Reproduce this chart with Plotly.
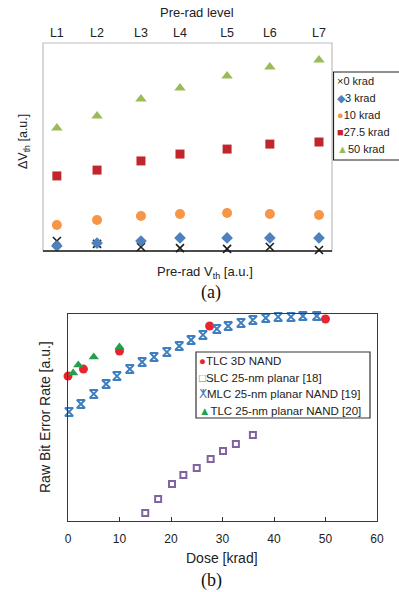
import plotly.graph_objects as go

W, H = 399, 592

# ---------------- data: panel (a) ----------------
levels = ["L1", "L2", "L3", "L4", "L5", "L6", "L7"]
pre_rad_vth = [0.48, 1.87, 3.39, 4.74, 6.37, 7.85, 9.55]
dv_0krad = [4.8, 3.4, 1.9, 1.4, 1.0, 1.9, 0.5]
dv_3krad = [2.4, 3.8, 4.8, 6.3, 6.3, 6.3, 6.3]
dv_10krad = [12.5, 14.9, 16.8, 17.8, 18.3, 17.8, 17.3]
dv_27krad = [36.1, 38.9, 43.3, 46.6, 49.0, 51.4, 52.4]
dv_50krad = [59.1, 64.9, 73.1, 78.4, 84.1, 88.5, 91.8]

# ---------------- data: panel (b) ----------------
dose_tlc3d = [0, 3, 10, 27.5, 50]
rber_tlc3d = [70.0, 73.4, 82.1, 94.2, 97.6]
dose_slc = [15, 17.5, 20.2, 22.4, 25, 27.7, 30.1, 32.6, 35.9]
rber_slc = [3.9, 10.6, 17.9, 22.2, 25.6, 30.0, 33.8, 37.2, 41.5]
dose_mlc = [0.2, 2.5, 5.0, 7.4, 9.5, 12.0, 14.4, 16.7, 19.2, 21.6, 23.9,
            26.2, 28.9, 31.1, 33.6, 35.9, 38.4, 40.8, 43.3, 45.6, 48.3]
rber_mlc = [52.7, 56.5, 61.4, 66.2, 70.0, 73.4, 76.8, 79.2, 81.6, 84.5, 87.4,
            89.9, 92.8, 94.2, 95.7, 97.1, 98.1, 98.6, 98.6, 99.0, 99.0]
dose_tlc25 = [1, 2, 5, 10]
rber_tlc25 = [71.5, 75.4, 79.2, 84.1]
dose_ticks = [0, 10, 20, 30, 40, 50, 60]

FONT = "Liberation Sans, Arial, sans-serif"
SERIF = "Liberation Serif, Times New Roman, serif"
TXT = "#222222"


def fx(p):
    return p / W


def fy(p):
    return 1 - p / H


fig = go.Figure()

# panel (a) traces
a_series = [
    ("0 krad", dv_0krad, dict(symbol="x-thin", size=8, color="#1a1a1a",
                              line=dict(width=1.6, color="#1a1a1a"))),
    ("3 krad", dv_3krad, dict(symbol="diamond", size=9, color="#4f81bd")),
    ("10 krad", dv_10krad, dict(symbol="circle", size=10, color="#f79646")),
    ("27.5 krad", dv_27krad, dict(symbol="square", size=9, color="#c0272d")),
    ("50 krad", dv_50krad, dict(symbol="triangle-up", size=10, color="#9bbb59")),
]
for name, ys, mk in a_series:
    fig.add_trace(go.Scatter(x=pre_rad_vth, y=ys, mode="markers", name=name,
                             marker=mk, xaxis="x", yaxis="y",
                             cliponaxis=False, showlegend=False))

# panel (b) traces
b_series = [
    ("TLC 3D NAND", dose_tlc3d, rber_tlc3d,
     dict(symbol="circle", size=9, color="#e8252f")),
    ("SLC 25-nm planar [18]", dose_slc, rber_slc,
     dict(symbol="square-open", size=6, color="#8064a2",
          line=dict(width=2, color="#8064a2"))),
    ("MLC 25-nm planar NAND [19]", dose_mlc, rber_mlc,
     dict(symbol="hourglass-open", size=8, color="#3f7fc0",
          line=dict(width=2, color="#3f7fc0"))),
    ("TLC 25-nm planar NAND [20]", dose_tlc25, rber_tlc25,
     dict(symbol="triangle-up", size=9, color="#22a04b")),
]
for name, xs, ys, mk in b_series:
    fig.add_trace(go.Scatter(x=xs, y=ys, mode="markers", name=name,
                             marker=mk, xaxis="x2", yaxis="y2",
                             cliponaxis=False, showlegend=False))

fig.update_layout(
    width=W, height=H, margin=dict(l=0, r=0, t=0, b=0, autoexpand=False),
    paper_bgcolor="white", plot_bgcolor="white",
    font=dict(family=FONT, color=TXT, size=12),
    showlegend=False,
    xaxis=dict(domain=[fx(43), fx(332)], range=[0, 10], side="top",
               tickvals=pre_rad_vth, ticktext=levels, ticks="",
               showgrid=False, zeroline=False, showline=False,
               tickfont=dict(size=12.5, color=TXT), ticklabelstandoff=3,
               anchor="y"),
    yaxis=dict(domain=[fy(251), fy(43)], range=[0, 100], showticklabels=False,
               ticks="", showgrid=False, zeroline=False, showline=False,
               anchor="x"),
    xaxis2=dict(domain=[fx(68), fx(377)], range=[0, 60], tickvals=dose_ticks,
                ticks="inside", ticklen=4, tickcolor="#333",
                showgrid=False, zeroline=False, showline=True, mirror=True,
                linecolor="#3a3a3a", linewidth=1.2,
                tickfont=dict(size=12, color=TXT), ticklabelstandoff=6,
                anchor="y2"),
    yaxis2=dict(domain=[fy(521), fy(314)], range=[0, 100], showticklabels=False,
                ticks="", showgrid=False, zeroline=False, showline=True,
                mirror=True, linecolor="#3a3a3a", linewidth=1.2, anchor="x2"),
)

# panel (a) frame: gray sides, black bottom
fig.add_shape(type="rect", xref="x domain", yref="y domain", x0=0, x1=1, y0=0, y1=1,
              line=dict(color="#bdbdbd", width=1.2), layer="below")
fig.add_shape(type="line", xref="x domain", yref="y domain", x0=0, x1=1, y0=0, y1=0,
              line=dict(color="#1a1a1a", width=1.5))

ann = []
# titles panel (a)
ann.append(dict(text="Pre-rad level", x=fx(197), y=fy(12), font=dict(size=13)))
ann.append(dict(text="ΔV<sub>th</sub> [a.u.]", x=fx(24), y=fy(142), textangle=-90,
                font=dict(size=12.5)))
ann.append(dict(text="Pre-rad V<sub>th</sub> [a.u.]", x=fx(205), y=fy(272),
                font=dict(size=13)))
ann.append(dict(text="(a)", x=fx(211), y=fy(292), font=dict(family=SERIF, size=18, color="#111")))
# titles panel (b)
ann.append(dict(text="Raw Bit Error Rate [a.u.]", x=fx(45), y=fy(417), textangle=-90,
                font=dict(size=14)))
ann.append(dict(text="Dose [krad]", x=fx(222), y=fy(558), font=dict(size=14)))
ann.append(dict(text="(b)", x=fx(211), y=fy(580), font=dict(family=SERIF, size=18, color="#111")))

# legend (a)
leg_a = [("×", "#1a1a1a", "0 krad"), ("◆", "#4f81bd", "3 krad"),
         ("●", "#f79646", "10 krad"), ("■", "#c0272d", "27.5 krad"),
         ("▲", "#9bbb59", "50 krad")]
for i, (g, c, t) in enumerate(leg_a):
    ann.append(dict(text=f'<span style="color:{c}">{g}</span>{t}', x=fx(335),
                    y=fy(81 + i * 17), xanchor="left", font=dict(size=11)))
fig.add_shape(type="rect", xref="paper", yref="paper", x0=fx(333.5), x1=fx(410),
              y0=fy(160), y1=fy(72), line=dict(color="#222", width=1.2))

# legend (b)
leg_b = [("●", "#e8252f", b_series[0][0]), ("□", "#8064a2", b_series[1][0]),
         ("ⵅ", "#3f7fc0", b_series[2][0]), ("▲", "#22a04b", b_series[3][0])]
for i, (g, c, t) in enumerate(leg_b):
    ann.append(dict(text=f'<span style="color:{c}">{g}</span>{t}', x=fx(197),
                    y=fy(361 + i * 16.5), xanchor="left", font=dict(size=11.5)))
fig.add_shape(type="rect", xref="paper", yref="paper", x0=fx(196), x1=fx(370),
              y0=fy(418), y1=fy(352), line=dict(color="#333", width=1.2))

for a in ann:
    a.setdefault("xref", "paper")
    a.setdefault("yref", "paper")
    a.setdefault("showarrow", False)
    a.setdefault("xanchor", "center")
    a.setdefault("yanchor", "middle")
    fig.add_annotation(**a)

fig.write_html("out.html")
